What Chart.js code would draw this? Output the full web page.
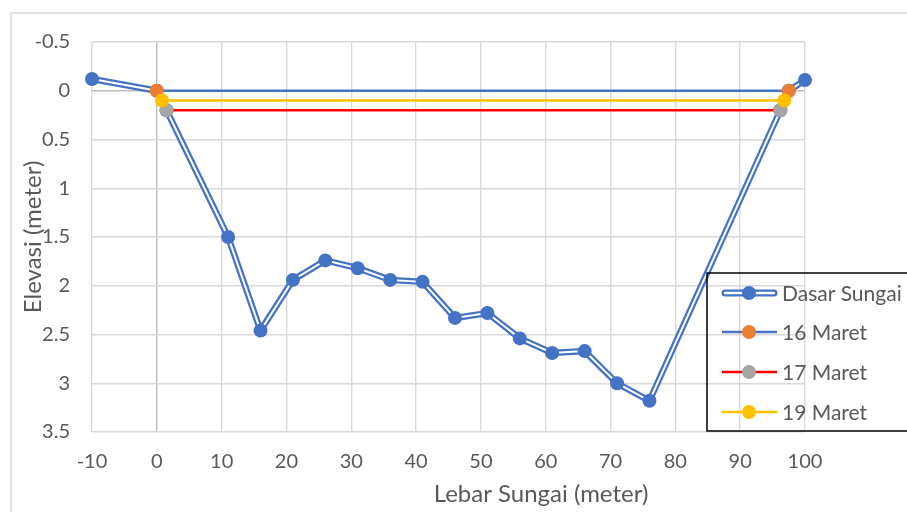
<!DOCTYPE html>
<html lang="id">
<head>
  <meta charset="UTF-8">
  <title>Penampang Sungai</title>
  <script src="https://cdn.jsdelivr.net/npm/chart.js"></script>
  <style>
    body { margin: 0; background: #ffffff; }
    canvas { display: block; }
  </style>
</head>
<body>
  <canvas id="grafik" width="907" height="512"></canvas>

  <script>
    // penampang dasar sungai (jarak dari tepi, kedalaman)
    const dasarX = [-10, 0, 1.5, 11, 16, 21, 26, 31, 36, 41, 46, 51, 56, 61, 66, 71, 76, 96.2, 97.5, 100];
    const dasarY = [-0.12, 0, 0.2, 1.5, 2.46, 1.94, 1.74, 1.82, 1.94, 1.96, 2.33, 2.28, 2.54, 2.69, 2.67, 3.0, 3.18, 0.2, 0, -0.11];

    // muka air per tanggal
    const maret16X = [0, 97.5];
    const maret16Y = [0, 0];
    const maret17X = [1.5, 96.2];
    const maret17Y = [0.2, 0.2];
    const maret19X = [0.8, 96.8];
    const maret19Y = [0.1, 0.1];

    const namaSeri = ["Dasar Sungai", "16 Maret", "17 Maret", "19 Maret"];

    const titik = (xs, ys) => xs.map((x, i) => ({ x: x, y: ys[i] }));

    const BIRU = "#4472c4";
    const warnaGaris = [BIRU, "#4472c4", "#ff0000", "#ffc000"];
    const warnaTitik = [BIRU, "#ed7d31", "#a5a5a5", "#ffc000"];
    const FONT = "Lato, 'Liberation Sans', sans-serif";
    const ABU = "#595959";

    // bingkai luar, judul sumbu dan legenda
    const hiasan = {
      id: "hiasan",
      beforeDraw(chart) {
        const c = chart.ctx;
        c.save();
        c.strokeStyle = "#d9d9d9";
        c.lineWidth = 1.5;
        c.strokeRect(11, 13, 1000, 1000);
        c.restore();
      },
      afterDraw(chart) {
        const c = chart.ctx;
        c.save();
        c.fillStyle = ABU;
        c.font = "24px " + FONT;
        c.textAlign = "center";
        c.textBaseline = "middle";
        c.fillText("Lebar Sungai (meter)", 541, 494);
        c.translate(33, 237);
        c.rotate(-Math.PI / 2);
        c.fillText("Elevasi (meter)", 0, 0);
        c.restore();

        // kotak legenda
        c.save();
        c.strokeStyle = "#000000";
        c.lineWidth = 1.5;
        c.strokeRect(707, 273, 260, 158);
        const baris = [293, 332, 372, 412];
        c.font = "21px " + FONT;
        c.textBaseline = "middle";
        c.textAlign = "left";
        namaSeri.forEach((nama, i) => {
          const y = baris[i];
          c.lineCap = "round";
          if (i === 0) {
            c.strokeStyle = BIRU;
            c.lineWidth = 7;
            c.beginPath(); c.moveTo(725, y); c.lineTo(774, y); c.stroke();
            c.strokeStyle = "#ffffff";
            c.lineWidth = 2.5;
            c.beginPath(); c.moveTo(725, y); c.lineTo(774, y); c.stroke();
          } else {
            c.lineCap = "butt";
            c.strokeStyle = warnaGaris[i];
            c.lineWidth = 2.5;
            c.beginPath(); c.moveTo(722, y); c.lineTo(777, y); c.stroke();
          }
          c.fillStyle = warnaTitik[i];
          c.beginPath(); c.arc(749, y, 7, 0, Math.PI * 2); c.fill();
          c.fillStyle = ABU;
          c.fillText(nama, 782, y + 1);
        });
        c.restore();
      }
    };

    const warnaGrid = ctx => ctx.tick && ctx.tick.value === 0 ? "#bfbfbf" : "#d9d9d9";

    new Chart(document.getElementById("grafik"), {
      type: "line",
      data: {
        datasets: [
          // garis ganda dasar sungai: biru tebal lalu putih tipis di tengah
          { label: namaSeri[0], data: titik(dasarX, dasarY), borderColor: BIRU, borderWidth: 6.5,
            pointRadius: 0, order: 7 },
          { label: namaSeri[0] + " (tengah)", data: titik(dasarX, dasarY), borderColor: "#ffffff", borderWidth: 2,
            pointRadius: 0, order: 6 },
          { label: namaSeri[0] + " (titik)", data: titik(dasarX, dasarY), showLine: false,
            pointRadius: 7, pointBackgroundColor: BIRU, pointBorderWidth: 0, order: 5 },
          { label: namaSeri[1], data: titik(maret16X, maret16Y), borderColor: warnaGaris[1], borderWidth: 2.5,
            pointRadius: 7, pointBackgroundColor: warnaTitik[1], pointBorderWidth: 0, order: 4 },
          { label: namaSeri[2], data: titik(maret17X, maret17Y), borderColor: warnaGaris[2], borderWidth: 2.5,
            pointRadius: 7, pointBackgroundColor: warnaTitik[2], pointBorderWidth: 0, order: 3 },
          { label: namaSeri[3], data: titik(maret19X, maret19Y), borderColor: warnaGaris[3], borderWidth: 2.5,
            pointRadius: 7, pointBackgroundColor: warnaTitik[3], pointBorderWidth: 0, order: 2 }
        ]
      },
      options: {
        responsive: false,
        animation: false,
        devicePixelRatio: 1,
        clip: false,
        layout: { padding: { left: 0, right: 102, top: 42, bottom: 0 } },
        plugins: { legend: { display: false }, tooltip: { enabled: false } },
        elements: { line: { tension: 0 } },
        scales: {
          x: {
            type: "linear", min: -10, max: 100,
            ticks: { stepSize: 10, color: ABU, font: { family: FONT, size: 20 }, padding: 18 },
            grid: { color: warnaGrid, lineWidth: 1.4, drawTicks: false },
            border: { display: false },
            afterFit: s => { s.height = 80; }
          },
          y: {
            type: "linear", reverse: true, min: -0.5, max: 3.5,
            ticks: { stepSize: 0.5, color: ABU, font: { family: FONT, size: 20 }, padding: 22,
              callback: v => String(v) },
            grid: { color: warnaGrid, lineWidth: 1.4, drawTicks: false },
            border: { display: false },
            afterFit: s => { s.width = 92; }
          }
        }
      },
      plugins: [hiasan]
    });
  </script>
</body>
</html>
